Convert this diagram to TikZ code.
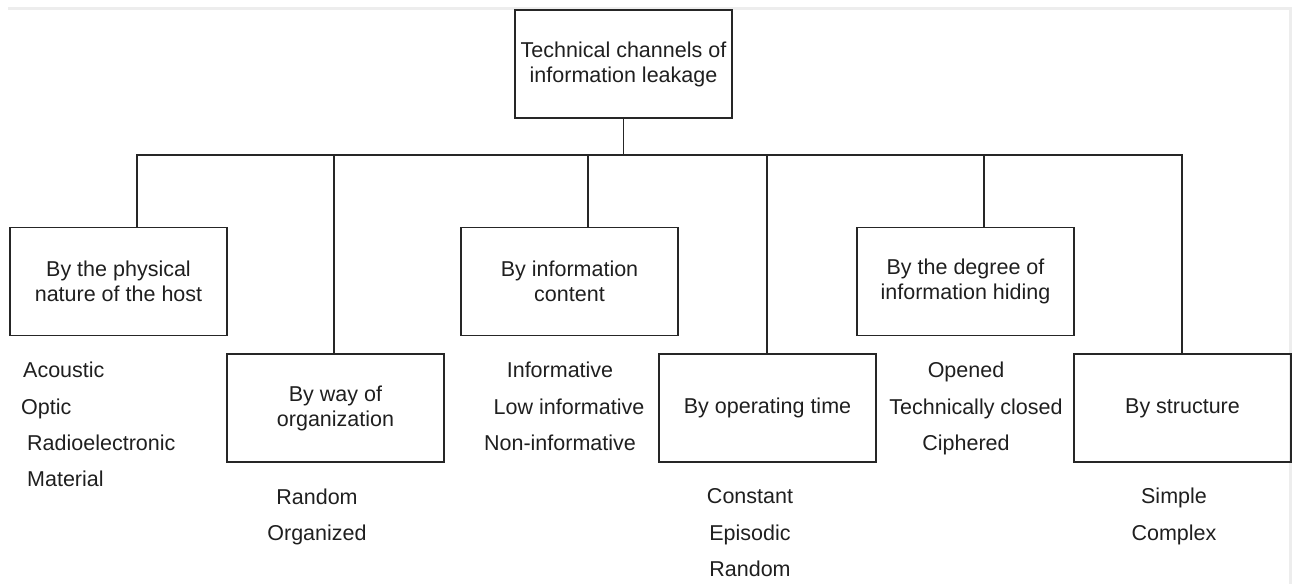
\documentclass[tikz,border=0pt]{standalone}
\usepackage{fontspec}
\setmainfont{Liberation Sans}
\begin{document}
\begin{tikzpicture}[x=1pt,y=-1pt,
  every node/.style={font=\fontsize{21.5}{25}\selectfont, text=black!88},
  catbox/.style={draw=black!85, line width=1.6pt, minimum width=217pt,
    minimum height=108pt, align=center, inner sep=2pt},
  item/.style={inner sep=0pt, text height=15pt, text depth=4pt},
  link/.style={draw=black!85, line width=1.6pt}]
\useasboundingbox (0,0) rectangle (1295,587);
% faint page edge
\draw[black!7, line width=3pt] (8,8) -- (1290,8) -- (1290,584);

% root and category boxes
\node[catbox] (top) at (623.5,64) {Technical channels of\\information leakage};
\node[catbox] (b1) at (118.5,281.5) {By the physical\\nature of the host};
\node[catbox] (b2) at (335.5,408) {By way of\\organization};
\node[catbox] (b3) at (569.5,281.5) {By information\\content};
\node[catbox] (b4) at (767.5,408) {By operating time};
\node[catbox] (b5) at (965.5,281.5) {By the degree of\\information hiding};
\node[catbox] (b6) at (1182.5,408) {By structure};

% tree connectors
\coordinate (bus) at (623.5,155);
\draw[link] (top.south) -- (bus);
\draw[link] (bus) -| ([xshift=18.5pt]b1.north);
\draw[link] (bus) -| ([xshift=-1.5pt]b2.north);
\draw[link] (bus) -| ([xshift=18.5pt]b3.north);
\draw[link] (bus) -| ([xshift=-0.5pt]b4.north);
\draw[link] (bus) -| ([xshift=18.5pt]b5.north);
\draw[link] (bus) -| ([xshift=-0.5pt]b6.north);

% lists under each category
\node[item, anchor=west] (p1) at (23,372) {Acoustic};
\node[item, anchor=west] (p2) at (21,409) {Optic};
\node[item, anchor=west] (p3) at (27,445) {Radioelectronic};
\node[item, anchor=west] (p4) at (27,481) {Material};

\node[item] (w1) at (317,499) {Random};
\node[item] (w2) at (317,535) {Organized};

\node[item] (c1) at (560,372) {Informative};
\node[item] (c2) at (569,409) {Low informative};
\node[item] (c3) at (560,445) {Non-informative};

\node[item] (t1) at (750,498) {Constant};
\node[item] (t2) at (750,535) {Episodic};
\node[item] (t3) at (750,571) {Random};

\node[item] (h1) at (966,372) {Opened};
\node[item] (h2) at (976,409) {Technically closed};
\node[item] (h3) at (966,445) {Ciphered};

\node[item] (s1) at (1174,498) {Simple};
\node[item] (s2) at (1174,535) {Complex};
\end{tikzpicture}
\end{document}
